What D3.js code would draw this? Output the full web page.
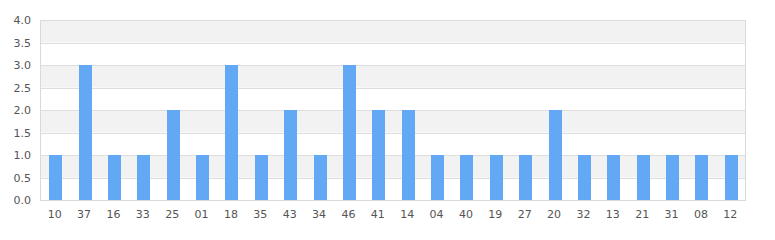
<!DOCTYPE html>
<html>
<head>
<meta charset="utf-8">
<script src="https://cdn.jsdelivr.net/npm/d3@7"></script>
<style>
  body { margin: 0; background: #fff; }
  svg { display: block; font-family: "DejaVu Sans", sans-serif; }
</style>
</head>
<body>
<svg width="775" height="240"></svg>
<script>
// categories and counts, left to right
var categories = ["10","37","16","33","25","01","18","35","43","34","46","41","14","04","40","19","27","20","32","13","21","31","08","12"];
var values = [1,3,1,1,2,1,3,1,2,1,3,2,2,1,1,1,1,2,1,1,1,1,1,1];
var yTicks = [0,0.5,1,1.5,2,2.5,3,3.5,4];

var width = 775, height = 240;
var margin = ({top: 20, right: 30, bottom: 40, left: 40});
var barWidth = 13;

var x = d3.scaleBand()
    .domain(categories)
    .range([margin.left, width - margin.right]);
var y = d3.scaleLinear()
    .domain([0, 4])
    .range([height - margin.bottom, margin.top]);

var svg = d3.select("svg");

// alternating bands
svg.append("g")
  .selectAll("rect")
  .data(yTicks.slice(0, -1))
  .join("rect")
    .attr("x", margin.left)
    .attr("y", d => y(d + 0.5))
    .attr("width", width - margin.right - margin.left)
    .attr("height", d => y(d) - y(d + 0.5))
    .attr("fill", (d, i) => i % 2 ? "#f2f2f2" : "#fff");

// grid lines
svg.append("g")
  .selectAll("line")
  .data(yTicks)
  .join("line")
    .attr("x1", margin.left)
    .attr("x2", width - margin.right)
    .attr("y1", d => Math.round(y(d)) + 0.5)
    .attr("y2", d => Math.round(y(d)) + 0.5)
    .attr("stroke", "#dedede");

svg.append("rect")
    .attr("x", margin.left + 0.5)
    .attr("y", margin.top + 0.5)
    .attr("width", width - margin.right - margin.left)
    .attr("height", height - margin.bottom - margin.top)
    .attr("fill", "none")
    .attr("stroke", "#dadada");

svg.append("g")
  .selectAll("rect")
  .data(values)
  .join("rect")
    .attr("x", (d, i) => Math.round(x(categories[i]) + x.bandwidth() / 2 + 1 - barWidth / 2))
    .attr("y", d => y(d))
    .attr("width", barWidth)
    .attr("height", d => y(0) - y(d))
    .attr("fill", "#62a8f4");

var yAxis = g => g
    .attr("transform", `translate(${margin.left - 9},0)`)
    .call(d3.axisLeft(y).tickValues(yTicks).tickFormat(d3.format(".1f")).tickSize(0).tickPadding(0))
    .call(g => g.select(".domain").remove())
    .call(g => g.selectAll("text").attr("fill", "#555").attr("font-size", 11));

var xAxis = g => g
    .attr("transform", `translate(0,${height - margin.bottom})`)
    .call(d3.axisBottom(x).tickSize(0).tickPadding(10))
    .call(g => g.select(".domain").remove())
    .call(g => g.selectAll("text").attr("fill", "#555").attr("font-size", 11));

svg.append("g").call(yAxis);
svg.append("g").call(xAxis);
svg.selectAll(".tick text").attr("font-family", "DejaVu Sans");
</script>
</body>
</html>
